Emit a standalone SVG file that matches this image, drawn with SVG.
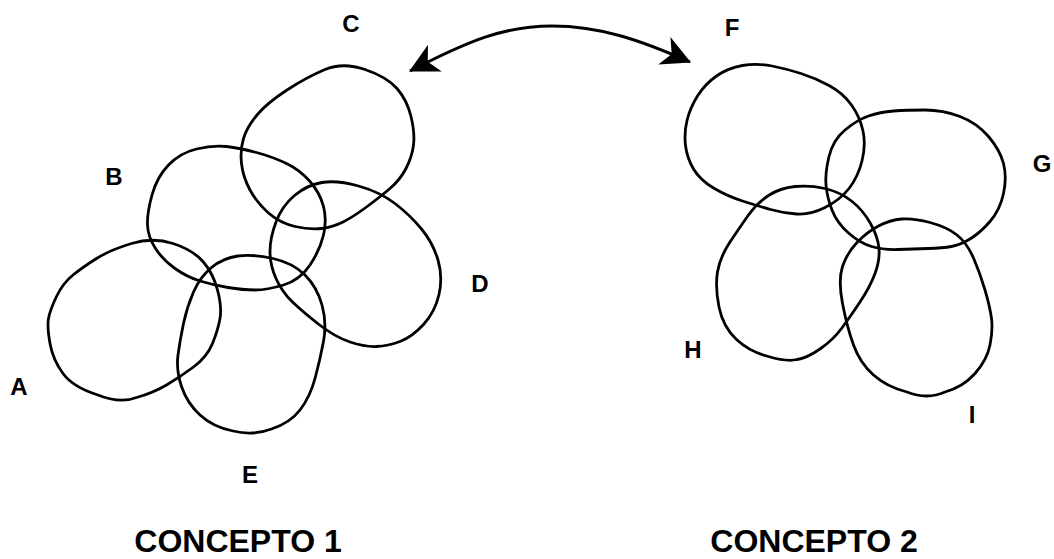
<svg xmlns="http://www.w3.org/2000/svg" width="1054" height="559" viewBox="0 0 1054 559">
  <style>
    .blob { fill: none; stroke: #000; stroke-width: 2.8; stroke-linejoin: round; }
    .lbl { font-family: "Liberation Sans", Arial, sans-serif; font-weight: bold; font-size: 24px; fill: #000; text-anchor: middle; }
    .title { font-family: "Liberation Sans", Arial, sans-serif; font-weight: bold; font-size: 32px; fill: #000; text-anchor: middle; }
    .link { fill: none; stroke: #000; stroke-width: 3; }
  </style>
  <defs>
    <marker id="barb" viewBox="-32 -17 34 34" markerWidth="34" markerHeight="34" refX="0" refY="0" markerUnits="userSpaceOnUse" orient="auto-start-reverse">
      <path d="M1,0 L-28,-15 L-20,0 L-28,15 Z" fill="#000"/>
    </marker>
  </defs>
  <rect width="1054" height="559" fill="#fff"/>

  <!-- concept 1 -->
  <g id="node-A">
    <path class="blob" d="M173,243.5 Q153,237 131.5,243.5 Q110,250 96.5,258.5 Q83,267 73,275 Q63,283 56.5,296.5 Q50,310 48.5,318.5 Q47,327 50,343.5 Q53,360 63,373.5 Q73,387 96.5,394.5 Q120,404 136.5,397.5 Q153,393 166.5,385 Q180,377 193.5,367 Q207,357 212.5,343.5 Q218,330 220,318.5 Q222,307 217.5,290 Q213,273 203,261.5 Q193,250 173,243.5 Z"/>
    <text class="lbl" x="19" y="395">A</text>
  </g>
  <g id="node-B">
    <path class="blob" d="M196.5,149 Q213,145 226.5,146.5 Q240,148 256.5,152.5 Q273,157 286.5,163.5 Q300,170 310,181.5 Q320,193 323.5,206.5 Q327,220 323.5,235 Q320,250 310,265 Q300,280 283.5,285 Q267,290 255,290 Q243,290 228,287.5 Q213,285 200,281 Q187,277 175,268.5 Q163,260 155.5,248.5 Q148,237 147.5,225 Q147,213 152,195 Q157,177 168.5,165 Q180,153 196.5,149 Z"/>
    <text class="lbl" x="114" y="185">B</text>
  </g>
  <g id="node-C">
    <path class="blob" d="M243.5,138.5 Q240,150 241.5,163.5 Q243,177 250,190 Q257,203 268.5,213 Q280,223 295,226.5 Q310,230 321.5,228.5 Q333,227 343,222 Q353,217 366.5,207 Q380,197 390,188.5 Q400,180 406,168.5 Q412,157 413.5,145 Q415,133 411,116.5 Q407,100 397,88.5 Q387,77 365,69.5 Q343,62 325,69.5 Q307,77 287,90 Q267,103 257,115 Q247,127 243.5,138.5 Z"/>
    <text class="lbl" x="351" y="32">C</text>
  </g>
  <g id="node-D">
    <path class="blob" d="M322,182.5 Q337,180 358.5,186 Q380,192 395,203.5 Q410,215 421.5,229 Q433,243 438,260 Q443,277 439,294.5 Q435,312 423.5,324.5 Q412,337 400,341.5 Q388,346 376.5,346.5 Q365,347 350,342 Q335,337 319,324.5 Q303,312 292.5,302 Q282,292 276,278.5 Q270,265 270,251.5 Q270,238 276,222 Q282,206 294.5,195.5 Q307,185 322,182.5 Z"/>
    <text class="lbl" x="480" y="292">D</text>
  </g>
  <g id="node-E">
    <path class="blob" d="M238,256 Q253,254 273,258.5 Q293,263 305,275 Q317,287 322,305 Q327,323 323.5,341.5 Q320,360 315,378.5 Q310,397 300,410 Q290,423 271.5,429 Q253,436 233,431 Q213,427 200,415 Q187,403 181.5,386.5 Q176,370 178,355 Q180,340 183.5,323.5 Q187,307 193.5,292 Q200,277 211.5,267.5 Q223,258 238,256 Z"/>
    <text class="lbl" x="250" y="483">E</text>
  </g>

  <!-- concept 2 -->
  <g id="node-F">
    <path class="blob" d="M742.5,65.5 Q757,63 772,66 Q787,69 801,73.5 Q815,78 829,85.5 Q843,93 851.5,105 Q860,117 863,131 Q866,145 862,161 Q858,177 849,188.5 Q840,200 825,207.5 Q810,215 796.5,214 Q783,213 770.5,209.5 Q758,206 742.5,201 Q727,196 713.5,188 Q700,180 693.5,169 Q687,158 685.5,145.5 Q684,133 687,120.5 Q690,108 697.5,96 Q705,84 716.5,76 Q728,68 742.5,65.5 Z"/>
    <text class="lbl" x="732" y="36">F</text>
  </g>
  <g id="node-G">
    <path class="blob" d="M893.5,111 Q907,110 925,110 Q943,110 960,116.5 Q977,123 988.5,136.5 Q1000,150 1003.5,163.5 Q1007,177 1003.5,193.5 Q1000,210 990,221.5 Q980,233 970,239 Q960,245 951.5,246.5 Q943,248 928,248.5 Q913,249 898,249.5 Q883,250 871.5,246.5 Q860,243 848.5,233 Q837,223 832,210 Q827,197 826,185 Q825,173 829,156.5 Q833,140 845,130 Q857,120 868.5,116 Q880,112 893.5,111 Z"/>
    <text class="lbl" x="1042" y="172">G</text>
  </g>
  <g id="node-H">
    <path class="blob" d="M795,186.5 Q810,185 825,188.5 Q840,192 851.5,201 Q863,210 870.5,223.5 Q878,237 879,248.5 Q880,260 875,273.5 Q870,287 860,302 Q850,317 841.5,328.5 Q833,340 820,349 Q807,358 797,359.5 Q787,362 768.5,356.5 Q750,352 736.5,339.5 Q723,327 719,307 Q715,287 717.5,272 Q720,257 730,242 Q740,227 748.5,215 Q757,203 768.5,195.5 Q780,188 795,186.5 Z"/>
    <text class="lbl" x="693" y="358">H</text>
  </g>
  <g id="node-I">
    <path class="blob" d="M901.5,219 Q913,218 930,222.5 Q947,227 957,235 Q967,243 973.5,258 Q980,273 985,290 Q990,307 991.5,318.5 Q993,330 990,345 Q987,360 975,373.5 Q963,387 945,392 Q927,400 907,392 Q887,387 873.5,375 Q860,363 853.5,345 Q847,327 842.5,303.5 Q838,280 842.5,266.5 Q847,253 857,242.5 Q867,232 878.5,226 Q890,220 901.5,219 Z"/>
    <text class="lbl" x="972" y="423">I</text>
  </g>

  <!-- link between the two concepts -->
  <g id="connectors">
    <path class="link" d="M410,71 C470,40 505,26 552,26 C600,26 640,40 690,62" marker-start="url(#barb)" marker-end="url(#barb)"/>
  </g>

  <text class="title" x="238" y="552">CONCEPTO 1</text>
  <text class="title" x="814" y="552">CONCEPTO 2</text>
</svg>
